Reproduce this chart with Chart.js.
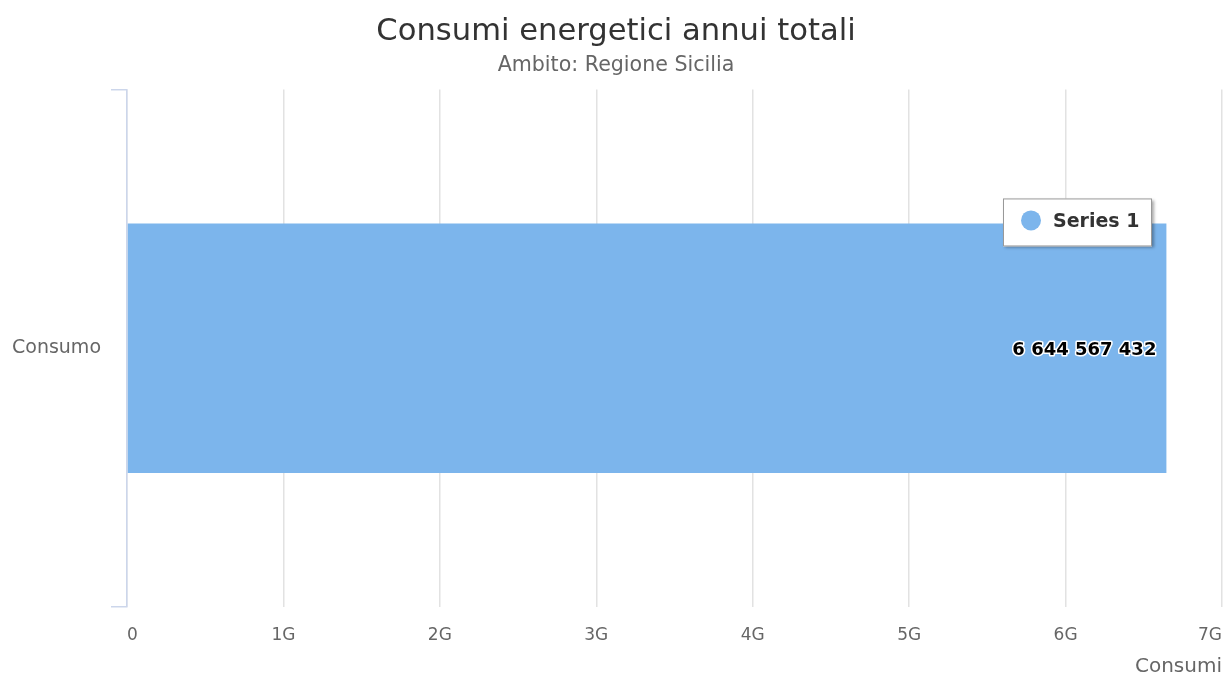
<!DOCTYPE html>
<html>
<head>
<meta charset="utf-8">
<title>Consumi energetici annui totali</title>
<script src="https://cdn.jsdelivr.net/npm/chart.js@4/dist/chart.umd.min.js"></script>
<style>
	html, body { margin: 0; padding: 0; background: #fff; }
	#wrap { width: 1226px; height: 679px; }
</style>
</head>
<body>
<div id="wrap"><canvas id="chart"></canvas></div>
<script>
const FONT = "'DejaVu Sans', sans-serif";

const categories = ["Consumo"];
const seriesName = "Series 1";
const seriesValues = [6644567432];
const tickValues = [0, 1e9, 2e9, 3e9, 4e9, 5e9, 6e9, 7e9];
const tickLabels = ["0", "1G", "2G", "3G", "4G", "5G", "6G", "7G"];

const barColour = "#7cb5ec";

// Thousands with a plain space, like "6 644 567 432"
function formatValue(v){
	return String(Math.round(v)).replace(/\B(?=(\d{3})+(?!\d))/g, " ");
}

// Value written inside the end of each bar, black with a white outline.
const barLabels = {
	id: "barLabels",
	afterDatasetsDraw(chart){
		const ctx = chart.ctx;
		chart.data.datasets.forEach((ds, di) => {
			chart.getDatasetMeta(di).data.forEach((bar, i) => {
				const text = formatValue(ds.data[i]);
				ctx.save();
				ctx.font = "bold 18px " + FONT;
				ctx.textAlign = "right";
				ctx.textBaseline = "middle";
				ctx.lineJoin = "round";
				ctx.lineWidth = 3;
				ctx.strokeStyle = "#ffffff";
				ctx.strokeText(text, bar.x - 10, bar.y + 2);
				ctx.fillStyle = "#000000";
				ctx.fillText(text, bar.x - 10, bar.y + 2);
				ctx.restore();
			});
		});
	}
};

// Floating legend box in the upper right of the plot.
const floatingLegend = {
	id: "floatingLegend",
	afterDraw(chart){
		const ctx = chart.ctx;
		const area = chart.chartArea;
		const w = 149, h = 48;
		const x = area.right - 70 - w;
		const y = area.top + 109;
		ctx.save();
		ctx.shadowColor = "rgba(0,0,0,0.35)";
		ctx.shadowOffsetX = 2;
		ctx.shadowOffsetY = 2;
		ctx.shadowBlur = 3;
		ctx.fillStyle = "#ffffff";
		ctx.fillRect(x, y, w, h);
		ctx.shadowColor = "transparent";
		ctx.strokeStyle = "#999999";
		ctx.lineWidth = 1;
		ctx.strokeRect(x + 0.5, y + 0.5, w - 1, h - 1);
		ctx.fillStyle = chart.data.datasets[0].backgroundColor;
		ctx.beginPath();
		ctx.arc(x + 28, y + 22, 10, 0, Math.PI * 2);
		ctx.fill();
		ctx.fillStyle = "#333333";
		ctx.font = "bold 19px " + FONT;
		ctx.textBaseline = "middle";
		ctx.fillText(chart.data.datasets[0].label, x + 50, y + 24);
		ctx.restore();
	}
};

new Chart(document.getElementById("chart"), {
	type: "bar",
	data: {
		labels: categories,
		datasets: [{
			label: seriesName,
			data: seriesValues,
			backgroundColor: barColour,
			borderWidth: 0,
			categoryPercentage: 1,
			barPercentage: 0.482,
		}],
	},
	options: {
		indexAxis: "y",
		responsive: true,
		maintainAspectRatio: false,
		animation: false,
		layout: { padding: { left: 10, right: 4, top: 0, bottom: 0 } },
		plugins: {
			legend: { display: false },
			tooltip: { enabled: false },
			title: {
				display: true,
				text: "Consumi energetici annui totali",
				color: "#333333",
				font: { family: FONT, size: 30.6, weight: "normal", lineHeight: 1.2 },
				padding: { top: 14, bottom: 3 },
			},
			subtitle: {
				display: true,
				text: "Ambito: Regione Sicilia",
				color: "#666666",
				font: { family: FONT, size: 20.6, weight: "normal", lineHeight: 1.2 },
				padding: { top: 0, bottom: 11 },
			},
		},
		scales: {
			x: {
				type: "linear",
				min: 0,
				max: 7e9,
				afterBuildTicks(scale){
					scale.ticks = tickValues.map(v => ({ value: v }));
				},
				afterFit(scale){
					// labels sit inside the plot width, no extra side padding
					scale.height = 72;
					scale.paddingLeft = 0;
					scale.paddingRight = 0;
				},
				ticks: {
					align: "inner",
					color: "#666666",
					padding: 18,
					font: { family: FONT, size: 17 },
					callback: (v) => tickLabels[tickValues.indexOf(v)],
				},
				grid: { color: "#e2e2e2", lineWidth: 1.5, drawTicks: false },
				border: { display: false },
				title: {
					display: true,
					text: "Consumi",
					align: "end",
					color: "#666666",
					font: { family: FONT, size: 20 },
					padding: { top: 0, bottom: 0 },
				},
			},
			y: {
				type: "category",
				afterFit(scale){ scale.width = 117; },
				ticks: {
					color: "#666666",
					padding: 10,
					font: { family: FONT, size: 19 },
				},
				grid: {
					offset: true,
					drawOnChartArea: false,
					color: "#ccd6eb",
					lineWidth: 1.5,
					tickLength: 16,
				},
				border: { color: "#ccd6eb", width: 1.5 },
			},
		},
	},
	plugins: [barLabels, floatingLegend],
});
</script>
</body>
</html>
